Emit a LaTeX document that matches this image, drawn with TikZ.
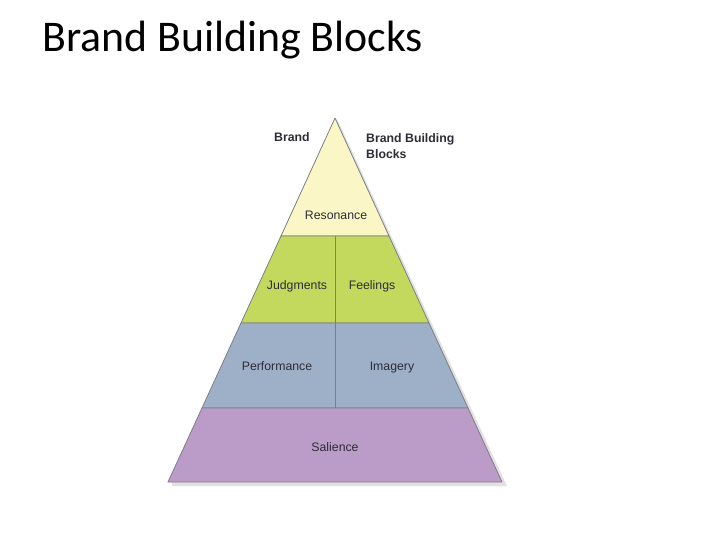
\documentclass[tikz,border=0pt]{standalone}
\usepackage{fontspec}
\setmainfont{Liberation Sans}
\newfontfamily\titlefont{Carlito}
\definecolor{yel}{RGB}{250,246,198}
\definecolor{grn}{RGB}{194,217,94}
\definecolor{blu}{RGB}{158,176,200}
\definecolor{pur}{RGB}{187,156,200}
\definecolor{edge}{RGB}{125,125,135}
\definecolor{lbl}{RGB}{45,45,55}
\definecolor{shd}{RGB}{225,225,225}
\begin{document}
\begin{tikzpicture}[x=1pt,y=-1pt,
  layer/.style={draw=edge,line width=0.8pt,line join=round},
  lab/.style={font=\fontsize{12.3}{14}\selectfont,text=lbl,inner sep=0pt,anchor=base},
  blab/.style={font=\fontsize{12.3}{16}\selectfont\bfseries,text=lbl,inner sep=0pt,align=left}]
\useasboundingbox (0,0) rectangle (720,540);
% shadow
\fill[shd] (338,121) -- (507,486) -- (172,486) -- (172,482) -- (502,482) -- (335,118) -- cycle;
% layers
\path[layer,fill=yel] (335,118) -- (389,236) -- (281,236) -- cycle;
\path[layer,fill=grn] (281,236) -- (389,236) -- (429,323) -- (241,323) -- cycle;
\path[layer,fill=blu] (241,323) -- (429,323) -- (468,408) -- (202,408) -- cycle;
\path[layer,fill=pur] (202,408) -- (468,408) -- (502,482) -- (168,482) -- cycle;
\draw[edge,line width=0.8pt] (335,236) -- (335,408);
% labels
\node[anchor=base west,inner sep=0pt,font=\titlefont\fontsize{43.8}{50}\selectfont] (title) at (42,52) {Brand Building Blocks};
\node[blab,anchor=base west] (brand) at (274,142) {Brand};
\node[blab,anchor=north west] (bbb) at (366,133) {Brand Building\\Blocks};
\node[lab] (res) at (336,220) {Resonance};
\node[lab] (jud) at (297,289) {Judgments};
\node[lab] (fee) at (372,289) {Feelings};
\node[lab] (per) at (277,370) {Performance};
\node[lab] (ima) at (392,370) {Imagery};
\node[lab] (sal) at (335,451) {Salience};
\end{tikzpicture}
\end{document}
